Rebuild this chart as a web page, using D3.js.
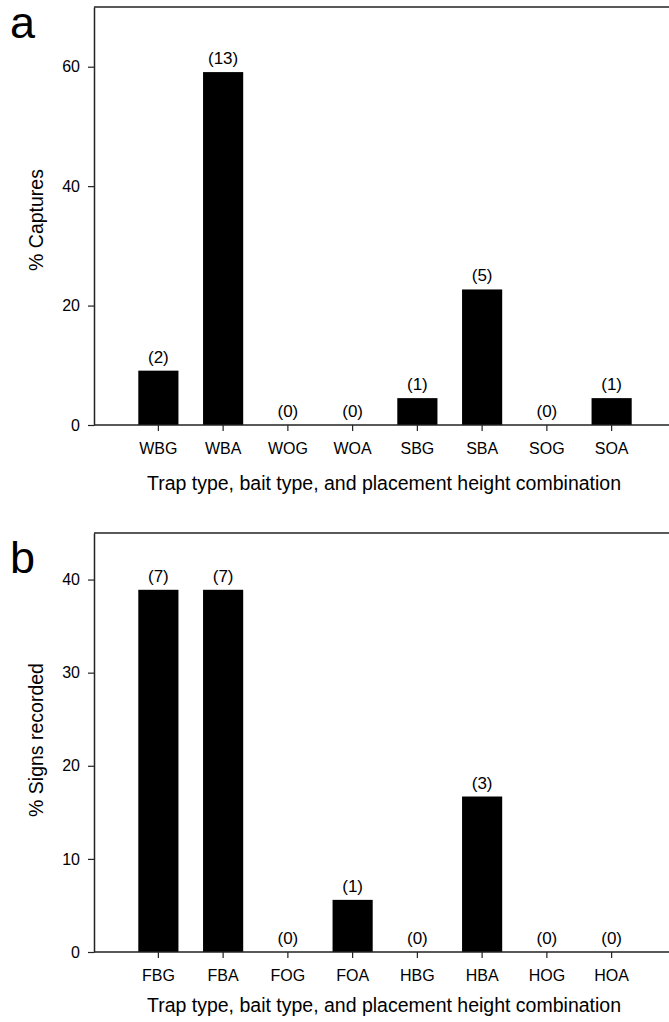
<!DOCTYPE html>
<html>
<head>
<meta charset="utf-8">
<script src="https://cdn.jsdelivr.net/npm/d3@7"></script>
<style>
  body { margin: 0; background: #fff; }
  text { font-family: "Liberation Sans", Arial, sans-serif; fill: #000; }
</style>
</head>
<body>
<div id="chart"></div>
<script>
// panel a: captures
const capCategories = ["WBG", "WBA", "WOG", "WOA", "SBG", "SBA", "SOG", "SOA"]
const capPercent = [9.1, 59.1, 0, 0, 4.5, 22.7, 0, 4.5]
const capCounts = [2, 13, 0, 0, 1, 5, 0, 1]
const capTicks = [0, 20, 40, 60]

// panel b: signs
const signCategories = ["FBG", "FBA", "FOG", "FOA", "HBG", "HBA", "HOG", "HOA"]
const signPercent = [38.9, 38.9, 0, 5.6, 0, 16.7, 0, 0]
const signCounts = [7, 7, 0, 1, 0, 3, 0, 0]
const signTicks = [0, 10, 20, 30, 40]

const xTitle = "Trap type, bait type, and placement height combination"

const W = 669, H = 1022
const FONT = '"Liberation Sans", Arial, sans-serif'

const svg = d3.select('#chart')
  .append('svg')
  .attr('width', W)
  .attr('height', H)
  .attr('viewBox', [0, 0, W, H])

function panel(opts) {
  const { top, bottom, max, cats, vals, counts, ticks, letter, letterY, yTitle, yTitleY, xTitleY } = opts
  const left = 94, right = W

  const x = d3.scaleBand()
    .domain(cats)
    .range([126, 644])
    .paddingInner(0.38)
    .paddingOuter(0.19)

  const y = d3.scaleLinear()
    .domain([0, max])
    .range([bottom, top])

  const g = svg.append('g')

  // frame top line
  g.append('line')
    .attr('x1', left).attr('x2', right)
    .attr('y1', top).attr('y2', top)
    .attr('stroke', '#222').attr('stroke-width', 1.5)

  // bars
  g.selectAll('rect')
    .data(vals)
    .join('rect')
    .attr('x', (d, i) => x(cats[i]))
    .attr('width', x.bandwidth())
    .attr('y', d => y(d))
    .attr('height', d => bottom - y(d))
    .attr('fill', '#000')

  // count labels
  g.selectAll('text.count')
    .data(counts)
    .join('text')
    .attr('class', 'count')
    .attr('x', (d, i) => x(cats[i]) + x.bandwidth() / 2)
    .attr('y', (d, i) => y(vals[i]) - 8)
    .attr('text-anchor', 'middle')
    .attr('font-size', 17)
    .text(d => `(${d})`)

  // y axis
  const yAxis = g.append('g')
    .attr('transform', `translate(${left},0)`)
    .call(d3.axisLeft(y).tickValues(ticks).tickSize(6).tickSizeOuter(0).tickPadding(8))
  yAxis.select('.domain').attr('stroke', '#222').attr('stroke-width', 1.5)
  yAxis.selectAll('.tick line').attr('stroke', '#222').attr('stroke-width', 1.2)
  yAxis.selectAll('.tick text')
    .attr('font-size', 16)
    .attr('font-family', FONT)
    .attr('fill', '#000')

  // x axis
  const xAxis = g.append('g')
    .attr('transform', `translate(0,${bottom})`)
    .call(d3.axisBottom(x).tickSize(6).tickSizeOuter(0).tickPadding(12))
  xAxis.select('.domain')
    .attr('d', `M${left},0H${right}`)
    .attr('stroke', '#222').attr('stroke-width', 1.5)
  xAxis.selectAll('.tick line').attr('stroke', '#222').attr('stroke-width', 1.2)
  xAxis.selectAll('.tick text')
    .attr('font-size', 16)
    .attr('font-family', FONT)
    .attr('fill', '#000')

  // titles
  g.append('text')
    .attr('x', 384)
    .attr('y', xTitleY)
    .attr('text-anchor', 'middle')
    .attr('font-size', 19.5)
    .text(xTitle)

  g.append('text')
    .attr('transform', `translate(43,${yTitleY}) rotate(-90)`)
    .attr('text-anchor', 'middle')
    .attr('font-size', 19.5)
    .text(yTitle)

  g.append('text')
    .attr('x', 10)
    .attr('y', letterY)
    .attr('font-size', 45)
    .text(letter)
}

panel({
  top: 7, bottom: 425, max: 70,
  cats: capCategories, vals: capPercent, counts: capCounts, ticks: capTicks,
  letter: 'a', letterY: 38, yTitle: '% Captures', yTitleY: 220, xTitleY: 490
})

panel({
  top: 533, bottom: 952, max: 45,
  cats: signCategories, vals: signPercent, counts: signCounts, ticks: signTicks,
  letter: 'b', letterY: 573, yTitle: '% Signs recorded', yTitleY: 740, xTitleY: 1012
})
</script>
</body>
</html>
